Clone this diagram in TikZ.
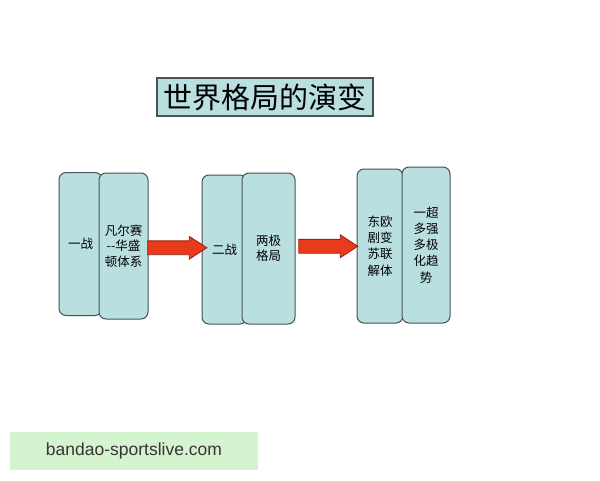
\documentclass[tikz,border=0pt]{standalone}
\usepackage{fontspec}
\newfontfamily\cjk{Noto Sans CJK SC}
\newfontfamily\sitefont{Liberation Sans}
\usepackage{tikz}
\usetikzlibrary{shapes.arrows,positioning}
\definecolor{boxfill}{RGB}{186,223,225}
\definecolor{boxline}{RGB}{70,82,84}
\definecolor{arrowfill}{RGB}{234,58,28}
\definecolor{arrowline}{RGB}{150,32,18}
\definecolor{sitefill}{RGB}{212,244,208}
\definecolor{sitetext}{RGB}{60,50,55}

\begin{document}
\begin{tikzpicture}[x=1pt,y=-1pt,inner sep=0pt,
panel/.style={draw=boxline,fill=boxfill,line width=1pt,rounded corners=7pt,
  align=center,font=\cjk\fontsize{12.5}{15.5}\selectfont},
bigarrow/.style={single arrow,draw=arrowline,fill=arrowfill,line width=0.8pt,
  inner xsep=0pt,inner ysep=6.5pt,minimum height=59pt,xshift=-3pt,
  single arrow head extend=4.5pt,single arrow tip angle=66}]
\useasboundingbox[fill=white] (0,0) rectangle (600,480);
\node[draw=boxline,fill=boxfill,line width=1.2pt,minimum width=216pt,
  minimum height=38pt,font=\cjk\fontsize{29}{29}\selectfont] (title) at (265,97) {世界格局的演变};
% back and front panels
\node[panel,minimum width=43pt,minimum height=143pt] (b1) at (80.5,244) {一战};
\node[panel,minimum width=49pt,minimum height=146pt] (f1) at (123.5,246) {凡尔赛\\-{}-华盛\\顿体系};
\node[panel,minimum width=45pt,minimum height=149pt] (b2) at (224.5,249.5) {二战};
\node[panel,minimum width=53pt,minimum height=151pt] (f2) at (268.5,248.5) {两极\\格局};
\node[panel,minimum width=46pt,minimum height=154pt,
  font=\cjk\fontsize{12.5}{16.2}\selectfont] (b3) at (380,246) {东欧\\剧变\\苏联\\解体};
\node[panel,minimum width=48pt,minimum height=156pt,
  font=\cjk\fontsize{12.5}{16.2}\selectfont] (f3) at (426,245) {一超\\多强\\多极\\化趋\\势};
\path
(f1.east) -- node[bigarrow]{} (b2.west)
(f2.east) -- node[bigarrow,yshift=1pt]{} (b3.west);
\node[fill=sitefill,minimum width=248pt,minimum height=38pt,text=sitetext,
  font=\sitefont\fontsize{17.5}{17.5}\selectfont] (site) at (134,451) {bandao-sportslive.com};
\end{tikzpicture}
\end{document}
